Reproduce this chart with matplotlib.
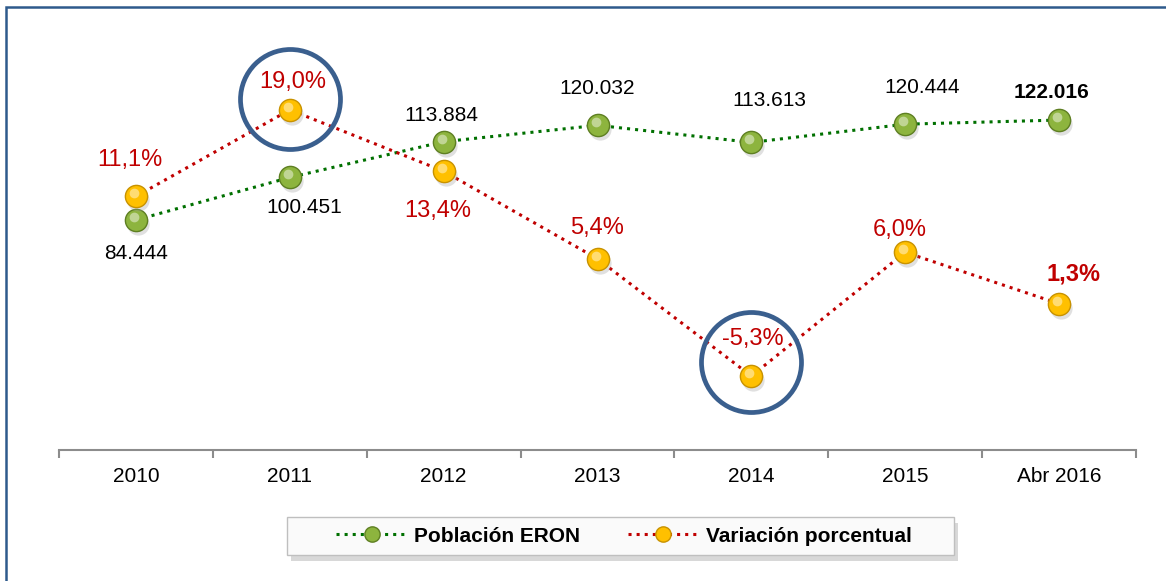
import matplotlib
matplotlib.use('Agg')
import matplotlib.pyplot as plt
from matplotlib.transforms import offset_copy
from matplotlib.patches import Rectangle
from matplotlib.lines import Line2D

plt.rcParams['font.family'] = ['Liberation Sans', 'DejaVu Sans']

# datos
anios = ['2010', '2011', '2012', '2013', '2014', '2015', 'Abr 2016']
poblacion = [84.444, 100.451, 113.884, 120.032, 113.613, 120.444, 122.016]
variacion = [11.1, 19.0, 13.4, 5.4, -5.3, 6.0, 1.3]
etiq_pob = ['84.444', '100.451', '113.884', '120.032', '113.613', '120.444', '122.016']
etiq_var = ['11,1%', '19,0%', '13,4%', '5,4%', '-5,3%', '6,0%', '1,3%']
# desplazamiento de etiquetas (pixeles)
off_pob = [(0, -33), (14, -30), (-2, 26), (0, 37), (18, 42), (17, 37), (-8, 28)]
off_var = [(-6, 36), (3, 28), (-6, -40), (0, 31), (1, 37), (-5, 22), (14, 30)]
resaltados = [1, 4]  # indices con circulo

verde = '#8DB43E'
verde_osc = '#5E7F22'
amarillo = '#FFC000'
amarillo_osc = '#C89200'
rojo = '#C00000'
azul = '#3A5F8E'

W, H = 1166, 581
fig = plt.figure(figsize=(W / 100, H / 100), dpi=100)
ax = fig.add_axes([59 / W, 131 / H, 1077 / W, 430 / H])
ax2 = ax.twinx()

x = list(range(len(anios)))


def bolas(a, xs, ys, color, borde, linecolor):
    a.plot(xs, ys, ':', color=linecolor, lw=2.2, zorder=2)
    sombra = offset_copy(a.transData, fig=fig, x=2, y=-4, units='dots')
    a.plot(xs, ys, 'o', ms=16, color='#999999', alpha=0.3, mec='none',
           transform=sombra, zorder=3)
    a.plot(xs, ys, 'o', ms=16, color=color, mec=borde, mew=1, zorder=4)
    brillo = offset_copy(a.transData, fig=fig, x=-2, y=3, units='dots')
    a.plot(xs, ys, 'o', ms=7, color='white', alpha=0.45, mec='none',
           transform=brillo, zorder=5)


bolas(ax, x, poblacion, verde, verde_osc, '#007000')
bolas(ax2, x, variacion, amarillo, amarillo_osc, rojo)

for i in range(len(x)):
    w = 'bold' if i == len(x) - 1 else 'normal'
    ax.annotate(etiq_pob[i], (x[i], poblacion[i]), xytext=off_pob[i],
                textcoords='offset pixels', ha='center', va='center',
                fontsize=15, color='black', fontweight=w, zorder=6)
    ax2.annotate(etiq_var[i], (x[i], variacion[i]), xytext=off_var[i],
                 textcoords='offset pixels', ha='center', va='center',
                 fontsize=17, color=rojo, fontweight=w, zorder=6)

# circulos de resalte
for i, dy in zip(resaltados, [11, 14]):
    t = offset_copy(ax2.transData, fig=fig, x=0, y=dy, units='dots')
    ax2.plot([x[i]], [variacion[i]], 'o', ms=72, mfc='none', mec=azul,
             mew=3.4, transform=t, zorder=7, clip_on=False)

ax.set_ylim(-1.96, 159.6)
ax2.set_ylim(-12.05, 27.2)
ax.set_xlim(-0.5, len(x) - 0.5)

for a in (ax, ax2):
    for s in ['top', 'right', 'left']:
        a.spines[s].set_visible(False)
    a.set_yticks([])
ax2.spines['bottom'].set_visible(False)
ax.spines['bottom'].set_color('#8C8C8C')
ax.spines['bottom'].set_linewidth(1.5)

ax.set_xticks(x)
ax.set_xticklabels(anios, fontsize=15)
ax.tick_params(axis='x', which='major', length=0, pad=12)
ax.set_xticks([v - 0.5 for v in range(len(x) + 1)], minor=True)
ax.tick_params(axis='x', which='minor', length=6, color='#8C8C8C', width=1.5)

# leyenda: caja con sombra
fig.add_artist(Rectangle((291 / W, 1 - 561 / H), 667 / W, 38 / H,
                         fc='#C8C8C8', ec='none', alpha=0.7,
                         transform=fig.transFigure, zorder=1))
fig.add_artist(Rectangle((287 / W, 1 - 555 / H), 667 / W, 38 / H,
                         fc='#FAFAFA', ec='#BFBFBF', lw=1,
                         transform=fig.transFigure, zorder=2))
h1 = Line2D([], [], ls=':', color='#007000', lw=2.2, marker='o', ms=11,
            mfc=verde, mec=verde_osc)
h2 = Line2D([], [], ls=':', color=rojo, lw=2.2, marker='o', ms=11,
            mfc=amarillo, mec=amarillo_osc)
leg = fig.legend([h1, h2], ['Población ERON', 'Variación porcentual'],
                 loc='center', bbox_to_anchor=(624 / W, 1 - 536 / H),
                 ncol=2, numpoints=1, handlelength=3.4, handletextpad=0.33,
                 columnspacing=2.3, borderpad=0.2, frameon=False,
                 prop={'weight': 'bold', 'size': 15})
leg.set_zorder(3)

# marco
fig.add_artist(Rectangle((6 / W, -0.1), 1.2, 1.1 - 7 / H, fill=False,
                         ec='#2E5A8C', lw=1.8, transform=fig.transFigure))

fig.savefig('out.png', dpi=100)
